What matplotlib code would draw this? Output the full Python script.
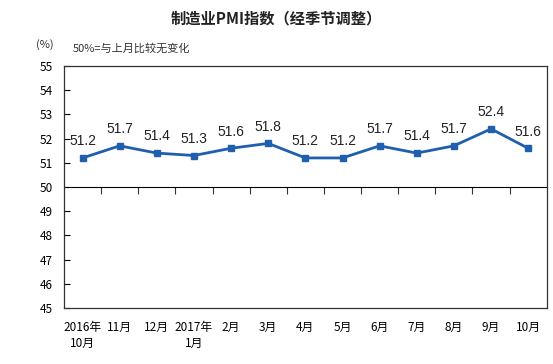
import numpy as np
import matplotlib.pyplot as plt

plt.rcParams['font.family'] = ['Noto Sans CJK SC', 'DejaVu Sans']

# data
months = ['2016年\n10月', '11月', '12月', '2017年\n1月', '2月', '3月', '4月',
          '5月', '6月', '7月', '8月', '9月', '10月']
pmi = [51.2, 51.7, 51.4, 51.3, 51.6, 51.8, 51.2, 51.2, 51.7, 51.4, 51.7, 52.4, 51.6]
y_ticks = list(range(45, 56))

line_color = '#1f5fae'

fig = plt.figure(figsize=(5.53, 3.64), dpi=100)
ax = fig.add_axes([0.1157, 0.1538, 0.873, 0.665])

x = np.arange(len(pmi))
ax.plot(x, pmi, color=line_color, linewidth=2, marker='s', markersize=5)

for xi, v in zip(x, pmi):
    ax.annotate(f'{v}', (xi, v), xytext=(0, 7), textcoords='offset points',
                ha='center', va='bottom', fontsize=10, family='Liberation Sans',
                color='#222222')

ax.set_xlim(-0.5, len(pmi) - 0.5)
ax.set_ylim(45, 55)
ax.set_yticks(y_ticks)
ax.tick_params(axis='y', direction='in', length=4, pad=8, labelsize=8.5)
ax.set_xticks(x)
ax.set_xticklabels(months, fontsize=8.5, linespacing=1.3)
ax.tick_params(axis='x', length=0, pad=9)

for s in ax.spines.values():
    s.set_color('#333333')
    s.set_linewidth(0.9)

# 50 line with category ticks
sec = ax.secondary_xaxis(0.5)
sec.set_xticks(np.arange(0.5, len(pmi) - 1))
sec.set_xticklabels([])
sec.tick_params(direction='in', length=5, color='#333333')
sec.spines['bottom'].set_color('#333333')

fig.text(0.5, 0.948, '制造业PMI指数（经季节调整）', ha='center', va='center',
         fontsize=11, fontweight='bold', color='#222222')
fig.text(0.065, 0.877, '(%)', ha='left', va='center', fontsize=8, color='#333333')
fig.text(0.132, 0.868, '50%=与上月比较无变化', ha='left', va='center', fontsize=8,
         color='#333333')

fig.savefig('out.png', dpi=100)
